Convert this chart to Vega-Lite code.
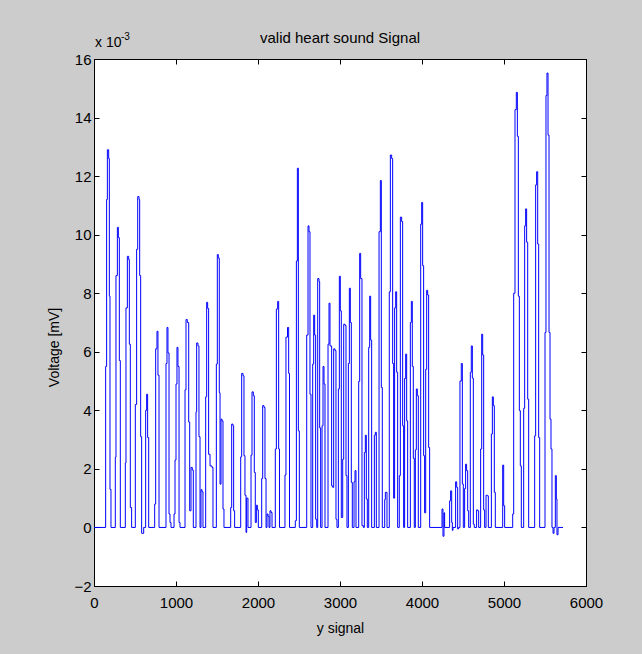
{
  "$schema": "https://vega.github.io/schema/vega-lite/v6.json",
  "width": 492,
  "height": 527,
  "autosize": "none",
  "padding": {"left": 94, "top": 59, "right": 56, "bottom": 68},
  "background": "#cccccc",
  "title": {"text": "valid heart sound Signal", "fontSize": 15, "fontWeight": "normal", "font": "Liberation Sans", "color": "black", "baseline": "alphabetic", "offset": -26},
  "config": {
    "font": "Liberation Sans",
    "view": {"fill": "white", "stroke": "black", "strokeWidth": 1},
    "axis": {"grid": false, "domainColor": "black", "tickColor": "black", "tickSize": -5, "tickWidth": 1, "domainWidth": 1, "labelColor": "black", "titleColor": "black", "labelFontSize": 15, "titleFontSize": 14, "titleFontWeight": "normal", "labelFont": "Liberation Sans", "titleFont": "Liberation Sans", "labelFlush": false, "labelOverlap": false, "format": "d"}
  },
  "datasets": {
    "signal": [
      {"sample": 0, "voltage": 0},
      {"sample": 142, "voltage": 5.5}, {"sample": 154, "voltage": 11.2}, {"sample": 163, "voltage": 12.9}, {"sample": 179, "voltage": 12.6}, {"sample": 187, "voltage": 7.9}, {"sample": 195, "voltage": 1.3}, {"sample": 207, "voltage": 0},
      {"sample": 260, "voltage": 2.4}, {"sample": 268, "voltage": 8.6}, {"sample": 285, "voltage": 10.25}, {"sample": 297, "voltage": 9.9}, {"sample": 309, "voltage": 5.7}, {"sample": 321, "voltage": 0},
      {"sample": 382, "voltage": 2.2}, {"sample": 390, "voltage": 7.5}, {"sample": 407, "voltage": 9.26}, {"sample": 423, "voltage": 9.15}, {"sample": 431, "voltage": 6.26}, {"sample": 443, "voltage": 0.68}, {"sample": 459, "voltage": 0},
      {"sample": 504, "voltage": 4.2}, {"sample": 520, "voltage": 9.5}, {"sample": 533, "voltage": 11.3}, {"sample": 549, "voltage": 11.2}, {"sample": 557, "voltage": 8.6}, {"sample": 569, "voltage": 3.1}, {"sample": 581, "voltage": -0.2}, {"sample": 606, "voltage": 0},
      {"sample": 630, "voltage": 4.0}, {"sample": 642, "voltage": 4.55}, {"sample": 654, "voltage": 3.07}, {"sample": 667, "voltage": 0},
      {"sample": 740, "voltage": 0.8}, {"sample": 752, "voltage": 6.1}, {"sample": 768, "voltage": 6.7}, {"sample": 780, "voltage": 5.2}, {"sample": 793, "voltage": 0},
      {"sample": 878, "voltage": 5.6}, {"sample": 890, "voltage": 6.83}, {"sample": 902, "voltage": 5.96}, {"sample": 915, "voltage": 0.46}, {"sample": 927, "voltage": 0.17}, {"sample": 939, "voltage": 0},
      {"sample": 976, "voltage": 0.46}, {"sample": 988, "voltage": 2.3}, {"sample": 1000, "voltage": 4.9}, {"sample": 1012, "voltage": 6.15}, {"sample": 1024, "voltage": 5.5}, {"sample": 1037, "voltage": 0.17}, {"sample": 1049, "voltage": 0},
      {"sample": 1110, "voltage": 4.7}, {"sample": 1122, "voltage": 7.1}, {"sample": 1138, "voltage": 7.0}, {"sample": 1155, "voltage": 3.6}, {"sample": 1167, "voltage": 0.57}, {"sample": 1183, "voltage": 2.05}, {"sample": 1199, "voltage": 1.96}, {"sample": 1211, "voltage": 0},
      {"sample": 1244, "voltage": 3.95}, {"sample": 1252, "voltage": 6.3}, {"sample": 1268, "voltage": 6.2}, {"sample": 1280, "voltage": 3.1}, {"sample": 1293, "voltage": 0},
      {"sample": 1305, "voltage": 1.29}, {"sample": 1317, "voltage": 1.22}, {"sample": 1329, "voltage": 0},
      {"sample": 1362, "voltage": 4.46}, {"sample": 1374, "voltage": 7.69}, {"sample": 1386, "voltage": 7.48}, {"sample": 1398, "voltage": 2.5}, {"sample": 1415, "voltage": 2.1}, {"sample": 1439, "voltage": 2.05}, {"sample": 1451, "voltage": 0},
      {"sample": 1492, "voltage": 5.58}, {"sample": 1504, "voltage": 9.32}, {"sample": 1516, "voltage": 9.2}, {"sample": 1528, "voltage": 4.6}, {"sample": 1537, "voltage": 1.48}, {"sample": 1549, "voltage": 3.7}, {"sample": 1561, "voltage": 3.64}, {"sample": 1573, "voltage": 0.63}, {"sample": 1585, "voltage": 0},
      {"sample": 1667, "voltage": 0.68}, {"sample": 1679, "voltage": 3.53}, {"sample": 1695, "voltage": 3.47}, {"sample": 1703, "voltage": 0.57}, {"sample": 1715, "voltage": 0},
      {"sample": 1789, "voltage": 2.41}, {"sample": 1801, "voltage": 5.26}, {"sample": 1817, "voltage": 5.18}, {"sample": 1829, "voltage": 2.45}, {"sample": 1841, "voltage": 1.1}, {"sample": 1854, "voltage": -0.17}, {"sample": 1862, "voltage": 1.0}, {"sample": 1878, "voltage": 0},
      {"sample": 1915, "voltage": 2.47}, {"sample": 1927, "voltage": 4.63}, {"sample": 1943, "voltage": 4.5}, {"sample": 1955, "voltage": 1.88}, {"sample": 1967, "voltage": 0.17}, {"sample": 1980, "voltage": 0.76}, {"sample": 1992, "voltage": 0.6}, {"sample": 2004, "voltage": 0},
      {"sample": 2045, "voltage": 1.67}, {"sample": 2057, "voltage": 4.16}, {"sample": 2073, "voltage": 4.1}, {"sample": 2085, "voltage": 1.67}, {"sample": 2098, "voltage": 0},
      {"sample": 2110, "voltage": 0.46}, {"sample": 2122, "voltage": 0.38}, {"sample": 2134, "voltage": 0}, {"sample": 2146, "voltage": 0.57}, {"sample": 2159, "voltage": 0.51}, {"sample": 2171, "voltage": 0},
      {"sample": 2211, "voltage": 2.68}, {"sample": 2224, "voltage": 7.46}, {"sample": 2240, "voltage": 7.72}, {"sample": 2252, "voltage": 2.68}, {"sample": 2262, "voltage": 0},
      {"sample": 2329, "voltage": 1.79}, {"sample": 2341, "voltage": 6.5}, {"sample": 2360, "voltage": 6.83}, {"sample": 2374, "voltage": 5.26}, {"sample": 2384, "voltage": 0},
      {"sample": 2455, "voltage": 0.23}, {"sample": 2468, "voltage": 9.1}, {"sample": 2480, "voltage": 12.27}, {"sample": 2492, "voltage": 3.3}, {"sample": 2504, "voltage": 0},
      {"sample": 2594, "voltage": 6.57}, {"sample": 2610, "voltage": 10.3}, {"sample": 2622, "voltage": 10.1}, {"sample": 2634, "voltage": 4.55}, {"sample": 2646, "voltage": 0},
      {"sample": 2667, "voltage": 5.58}, {"sample": 2679, "voltage": 7.25}, {"sample": 2691, "voltage": 6.57}, {"sample": 2703, "voltage": 0.28}, {"sample": 2716, "voltage": 0},
      {"sample": 2728, "voltage": 8.5}, {"sample": 2744, "voltage": 8.4}, {"sample": 2752, "voltage": 3.4}, {"sample": 2764, "voltage": 0},
      {"sample": 2781, "voltage": 3.47}, {"sample": 2793, "voltage": 5.5}, {"sample": 2805, "voltage": 4.9}, {"sample": 2817, "voltage": 0},
      {"sample": 2854, "voltage": 6.26}, {"sample": 2866, "voltage": 7.66}, {"sample": 2878, "voltage": 6.2}, {"sample": 2898, "voltage": 1.42}, {"sample": 2911, "voltage": 1.37}, {"sample": 2923, "voltage": 6.1}, {"sample": 2939, "voltage": 6.04}, {"sample": 2951, "voltage": 0.28}, {"sample": 2963, "voltage": 0},
      {"sample": 2980, "voltage": 4.73}, {"sample": 2992, "voltage": 8.58}, {"sample": 3004, "voltage": 7.4}, {"sample": 3016, "voltage": 0.34}, {"sample": 3033, "voltage": 2.33}, {"sample": 3045, "voltage": 6.94}, {"sample": 3061, "voltage": 6.9}, {"sample": 3073, "voltage": 1.77}, {"sample": 3085, "voltage": 0},
      {"sample": 3102, "voltage": 5.6}, {"sample": 3114, "voltage": 8.17}, {"sample": 3126, "voltage": 7.0}, {"sample": 3138, "voltage": 1.54}, {"sample": 3150, "voltage": 0},
      {"sample": 3171, "voltage": 1.56}, {"sample": 3183, "voltage": 1.94}, {"sample": 3195, "voltage": 0},
      {"sample": 3228, "voltage": 4.99}, {"sample": 3240, "voltage": 9.36}, {"sample": 3252, "voltage": 8.5}, {"sample": 3268, "voltage": 0.06}, {"sample": 3285, "voltage": 0},
      {"sample": 3297, "voltage": 2.56}, {"sample": 3309, "voltage": 3.15}, {"sample": 3321, "voltage": 0.97}, {"sample": 3333, "voltage": 0},
      {"sample": 3350, "voltage": 6.15}, {"sample": 3362, "voltage": 7.9}, {"sample": 3374, "voltage": 6.4}, {"sample": 3386, "voltage": 0},
      {"sample": 3419, "voltage": 3.15}, {"sample": 3431, "voltage": 3.25}, {"sample": 3443, "voltage": 0},
      {"sample": 3476, "voltage": 10.1}, {"sample": 3492, "voltage": 11.85}, {"sample": 3504, "voltage": 4.78}, {"sample": 3516, "voltage": 0},
      {"sample": 3545, "voltage": 0.95}, {"sample": 3553, "voltage": 1.2}, {"sample": 3573, "voltage": 0},
      {"sample": 3601, "voltage": 8.05}, {"sample": 3614, "voltage": 12.72}, {"sample": 3630, "voltage": 12.6}, {"sample": 3642, "voltage": 5.6}, {"sample": 3654, "voltage": 1.0}, {"sample": 3666, "voltage": 7.5}, {"sample": 3679, "voltage": 8.05}, {"sample": 3691, "voltage": 5.3}, {"sample": 3703, "voltage": 0},
      {"sample": 3723, "voltage": 1.77}, {"sample": 3736, "voltage": 10.6}, {"sample": 3752, "voltage": 10.45}, {"sample": 3764, "voltage": 3.47}, {"sample": 3776, "voltage": 0},
      {"sample": 3788, "voltage": 5.09}, {"sample": 3801, "voltage": 5.92}, {"sample": 3813, "voltage": 3.64}, {"sample": 3825, "voltage": 0},
      {"sample": 3858, "voltage": 7.0}, {"sample": 3870, "voltage": 7.72}, {"sample": 3882, "voltage": 5.5}, {"sample": 3894, "voltage": 2.36}, {"sample": 3906, "voltage": 0},
      {"sample": 3919, "voltage": 2.65}, {"sample": 3931, "voltage": 4.73}, {"sample": 3943, "voltage": 4.5}, {"sample": 3955, "voltage": 0},
      {"sample": 3984, "voltage": 10.36}, {"sample": 3996, "voltage": 11.1}, {"sample": 4008, "voltage": 8.94}, {"sample": 4020, "voltage": 2.45}, {"sample": 4032, "voltage": 0.5}, {"sample": 4045, "voltage": 5.4}, {"sample": 4057, "voltage": 8.1}, {"sample": 4069, "voltage": 7.94}, {"sample": 4081, "voltage": 2.73}, {"sample": 4093, "voltage": 0},
      {"sample": 4244, "voltage": 0.63}, {"sample": 4256, "voltage": -0.3}, {"sample": 4268, "voltage": 0.5}, {"sample": 4276, "voltage": 0},
      {"sample": 4337, "voltage": 0.91}, {"sample": 4349, "voltage": 1.25}, {"sample": 4362, "voltage": 0.17}, {"sample": 4370, "voltage": -0.1}, {"sample": 4378, "voltage": 0},
      {"sample": 4410, "voltage": 1.56}, {"sample": 4423, "voltage": 1.37}, {"sample": 4435, "voltage": -0.05}, {"sample": 4447, "voltage": 0},
      {"sample": 4463, "voltage": 5.0}, {"sample": 4479, "voltage": 5.6}, {"sample": 4492, "voltage": 1.48}, {"sample": 4504, "voltage": 0},
      {"sample": 4520, "voltage": 1.33}, {"sample": 4532, "voltage": 2.16}, {"sample": 4544, "voltage": 1.94}, {"sample": 4557, "voltage": 0.57}, {"sample": 4569, "voltage": 0},
      {"sample": 4589, "voltage": 5.3}, {"sample": 4601, "voltage": 6.2}, {"sample": 4614, "voltage": 5.1}, {"sample": 4626, "voltage": 0.11}, {"sample": 4638, "voltage": 0},
      {"sample": 4666, "voltage": 0.6}, {"sample": 4679, "voltage": 0.57}, {"sample": 4691, "voltage": 0},
      {"sample": 4715, "voltage": 2.68}, {"sample": 4728, "voltage": 6.6}, {"sample": 4740, "voltage": 5.89}, {"sample": 4752, "voltage": 0.6}, {"sample": 4764, "voltage": 0},
      {"sample": 4781, "voltage": 1.1}, {"sample": 4797, "voltage": 1.08}, {"sample": 4809, "voltage": 0},
      {"sample": 4846, "voltage": 3.19}, {"sample": 4858, "voltage": 4.46}, {"sample": 4870, "voltage": 4.16}, {"sample": 4882, "voltage": 1.2}, {"sample": 4894, "voltage": 0},
      {"sample": 4984, "voltage": 2.13}, {"sample": 4996, "voltage": 0.74}, {"sample": 5008, "voltage": 0},
      {"sample": 5106, "voltage": 0.46}, {"sample": 5118, "voltage": 8.0}, {"sample": 5134, "voltage": 14.27}, {"sample": 5150, "voltage": 14.86}, {"sample": 5163, "voltage": 13.36}, {"sample": 5175, "voltage": 7.9}, {"sample": 5187, "voltage": 3.99}, {"sample": 5199, "voltage": 2.1}, {"sample": 5211, "voltage": 0},
      {"sample": 5240, "voltage": 4.07}, {"sample": 5252, "voltage": 10.3}, {"sample": 5264, "voltage": 10.88}, {"sample": 5276, "voltage": 9.74}, {"sample": 5289, "voltage": 4.38}, {"sample": 5301, "voltage": 0},
      {"sample": 5374, "voltage": 3.13}, {"sample": 5386, "voltage": 11.7}, {"sample": 5398, "voltage": 12.15}, {"sample": 5411, "voltage": 9.68}, {"sample": 5423, "voltage": 3.07}, {"sample": 5435, "voltage": 0},
      {"sample": 5500, "voltage": 6.66}, {"sample": 5512, "voltage": 14.75}, {"sample": 5524, "voltage": 15.52}, {"sample": 5537, "voltage": 13.4}, {"sample": 5549, "voltage": 6.66}, {"sample": 5561, "voltage": 3.7}, {"sample": 5573, "voltage": 2.68}, {"sample": 5585, "voltage": 0}, {"sample": 5598, "voltage": -0.2}, {"sample": 5610, "voltage": 0},
      {"sample": 5626, "voltage": 1.77}, {"sample": 5638, "voltage": 0.97}, {"sample": 5646, "voltage": -0.25}, {"sample": 5659, "voltage": 0}, {"sample": 5720, "voltage": 0}
    ]
  },
  "resolve": {"axis": {"x": "independent", "y": "independent"}},
  "layer": [
    {
      "data": {"name": "signal"},
      "mark": {"type": "line", "interpolate": "step-after", "color": "#0000ff", "strokeWidth": 1},
      "encoding": {
        "x": {"field": "sample", "type": "quantitative", "scale": {"domain": [0, 6000], "nice": false, "zero": false},
          "axis": {"orient": "bottom", "values": [0, 1000, 2000, 3000, 4000, 5000, 6000], "labelPadding": 14, "title": "y signal", "titlePadding": 11}},
        "y": {"field": "voltage", "type": "quantitative", "scale": {"domain": [-2, 16], "nice": false, "zero": false},
          "axis": {"orient": "left", "values": [-2, 0, 2, 4, 6, 8, 10, 12, 14, 16], "labelPadding": 8, "title": "Voltage [mV]", "titlePadding": 12, "titleY": 288}}
      }
    },
    {
      "data": {"name": "signal"},
      "mark": {"type": "line", "strokeOpacity": 0},
      "encoding": {
        "x": {"field": "sample", "type": "quantitative", "axis": {"orient": "top", "values": [0, 1000, 2000, 3000, 4000, 5000, 6000], "labels": false, "title": null}},
        "y": {"field": "voltage", "type": "quantitative", "axis": {"orient": "right", "values": [-2, 0, 2, 4, 6, 8, 10, 12, 14, 16], "labels": false, "title": null}}
      }
    },
    {
      "data": {"values": [{}]},
      "mark": {"type": "text", "text": "x 10", "align": "left", "baseline": "alphabetic", "fontSize": 14, "fill": "black", "dx": 1, "dy": -12},
      "encoding": {"x": {"datum": 0, "type": "quantitative", "axis": null}, "y": {"datum": 16, "type": "quantitative", "axis": null}}
    },
    {
      "data": {"values": [{}]},
      "mark": {"type": "text", "text": "-3", "align": "left", "baseline": "alphabetic", "fontSize": 10, "fill": "black", "dx": 27, "dy": -19},
      "encoding": {"x": {"datum": 0, "type": "quantitative", "axis": null}, "y": {"datum": 16, "type": "quantitative", "axis": null}}
    }
  ]
}
